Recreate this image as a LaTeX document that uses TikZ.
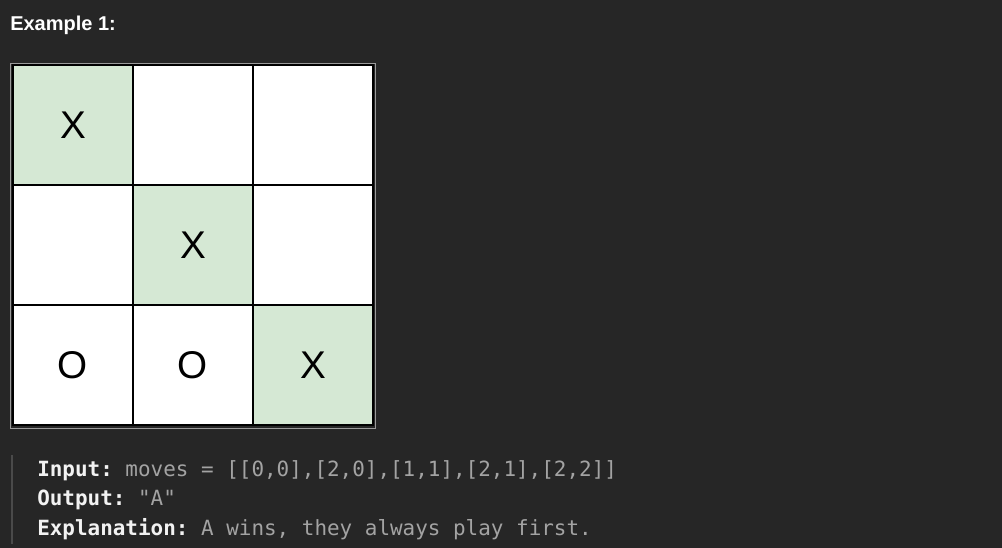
\documentclass[tikz,border=0pt]{standalone}
\usepackage{fontspec}
\setmainfont{Liberation Sans}
\setmonofont{DejaVu Sans Mono}
\usetikzlibrary{positioning}

\definecolor{bgdark}{HTML}{262626}
\definecolor{cellgreen}{HTML}{D5E8D4}
\definecolor{codegray}{HTML}{A3A3A3}
\definecolor{labelwhite}{HTML}{F2F2F2}
\definecolor{barline}{HTML}{4A4A4A}
\definecolor{framegray}{HTML}{9A9A9A}

\tikzset{
  cell/.style={draw=black, line width=1.8pt, fill=white, minimum size=90pt,
    inner sep=0pt, font=\fontsize{29}{29}\selectfont},
  win/.style={cell, fill=cellgreen},
  codeline/.style={anchor=base west, inner sep=0pt, text=codegray,
    font=\ttfamily\fontsize{15.7}{18}\selectfont},
}
\newcommand{\lbl}[1]{\textbf{\color{labelwhite}#1}}

\begin{document}
\begin{tikzpicture}[x=0.75pt,y=-0.75pt]
  \fill[bgdark] (0,0) rectangle (1002,548);
  \useasboundingbox (0,0) rectangle (1002,548);

  \node[anchor=base west, inner sep=0pt, text=white,
    font=\bfseries\fontsize{15}{18}\selectfont] (title) at (10,31) {Example 1:};

  % board
  \draw[framegray, line width=1.2pt] (10.5,63.5) rectangle (375.5,428.5);
  \foreach \r/\c/\s/\t in {0/0/win/X, 0/1/cell/, 0/2/cell/,
                           1/0/cell/, 1/1/win/X, 1/2/cell/,
                           2/0/cell/O, 2/1/cell/O, 2/2/win/X}
    \node[\s] (c\r\c) at ({73+120*\c},{125+120*\r}) {\t};

  % example text
  \coordinate (bartop) at (12,455);
  \coordinate (barbot) at (12,544);
  \draw[barline, line width=2.2pt] (bartop) -- (barbot);

  \node[codeline] (input) at (37,476)
    {\lbl{Input:} moves = [[0,0],[2,0],[1,1],[2,1],[2,2]]};
  \node[codeline] (output) at (37,505) {\lbl{Output:} "A"};
  \node[codeline] (expl) at (37,535)
    {\lbl{Explanation:} A wins, they always play first.};
\end{tikzpicture}
\end{document}
